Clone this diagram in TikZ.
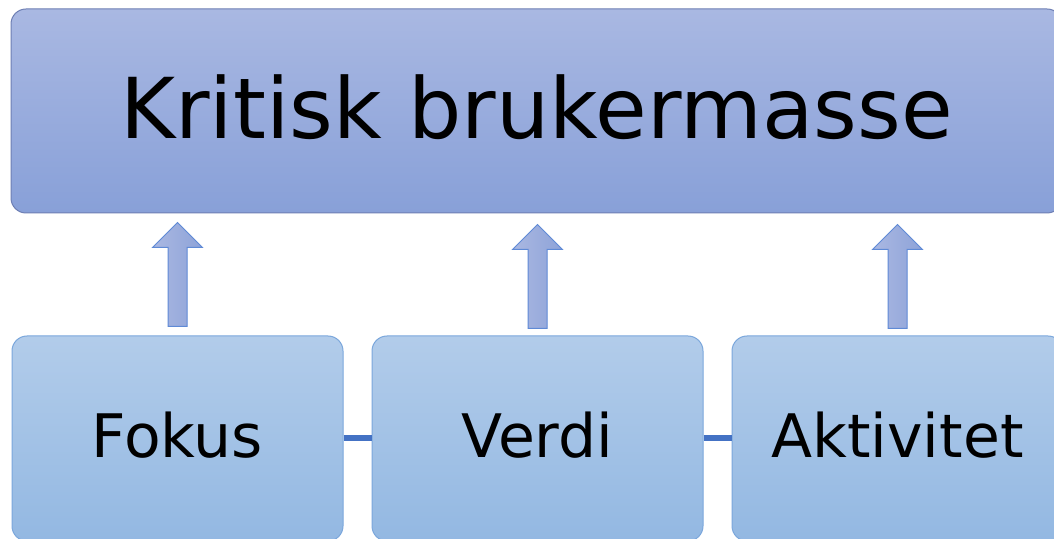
\documentclass[tikz,border=0pt]{standalone}
\usepackage{fontspec}
\setmainfont{DejaVu Sans}
\usetikzlibrary{calc}

\definecolor{hubTop}{HTML}{A9B8E2}
\definecolor{hubBottom}{HTML}{88A0D8}
\definecolor{hubLine}{HTML}{6E7FB4}
\definecolor{boxTop}{HTML}{B2CCEA}
\definecolor{boxBottom}{HTML}{93B8E2}
\definecolor{boxLine}{HTML}{7BA7DC}
\definecolor{arrLeft}{HTML}{AAB8E2}
\definecolor{arrRight}{HTML}{8EA3D8}
\definecolor{arrLine}{HTML}{5F8AD6}
\definecolor{linkBlue}{HTML}{4472C4}

\tikzset{
  hubbox/.style={rounded corners=15pt, draw=hubLine, line width=1pt,
    top color=hubTop, bottom color=hubBottom,
    minimum width=1051pt, minimum height=204pt, inner sep=0pt,
    text height=61pt, text depth=5pt,
    font=\fontsize{84}{100}\selectfont},
  factorbox/.style={rounded corners=15pt, draw=boxLine, line width=1pt,
    top color=boxTop, bottom color=boxBottom,
    minimum width=331pt, minimum height=205pt, inner sep=0pt,
    text height=44pt, text depth=7pt,
    font=\fontsize{60}{72}\selectfont},
  arrowbody/.style={draw=arrLine, line width=1pt,
    left color=arrLeft, right color=arrRight, line join=miter},
  link/.style={draw=linkBlue, line width=6pt},
  uparrow/.pic={
    \path[arrowbody] (-9.5,0) -- (-9.5,79) -- (-25,79) -- (0,104)
      -- (25,79) -- (9.5,79) -- (9.5,0) -- cycle;
  }
}

\begin{document}
\begin{tikzpicture}[x=1pt,y=1pt]
  \useasboundingbox (0,0) rectangle (1054,538);
  \fill[white] (0,0) rectangle (1054,538);
  \clip (0,0) rectangle (1054,538);

  % goal box
  \node[hubbox] (hub) at (536.5,427) {Kritisk brukermasse};

  % the three contributing factors
  \node[factorbox] (fokus) at (177.5,99.5) {Fokus};
  \node[factorbox] (verdi) at (537.5,99.5) {Verdi};
  \node[factorbox] (aktivitet) at (897.5,99.5) {Aktivitet};

  % links between the factors
  \draw[link] (fokus.east) -- (verdi.west);
  \draw[link] (verdi.east) -- (aktivitet.west);

  % block arrows from each factor up to the goal
  \pic at ($(fokus.north)+(0,9)$) {uparrow};
  \pic at ($(verdi.north)+(0,7)$) {uparrow};
  \pic at ($(aktivitet.north)+(0,7)$) {uparrow};
\end{tikzpicture}
\end{document}
